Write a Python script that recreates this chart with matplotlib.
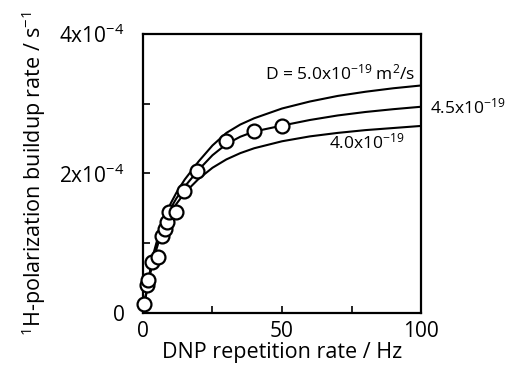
import matplotlib
matplotlib.use("Agg")
import matplotlib.pyplot as plt

plt.rcParams['font.family'] = ['Open Sans', 'DejaVu Sans']
plt.rcParams['mathtext.fontset'] = 'custom'
plt.rcParams['mathtext.rm'] = 'Open Sans'
plt.rcParams['mathtext.it'] = 'Open Sans:italic'
plt.rcParams['mathtext.bf'] = 'Open Sans:bold'

# Measured buildup rates (units of 1e-4 s^-1) vs DNP repetition rate (Hz)
rep_rate = [0.5, 1.3, 2.0, 3.1, 5.3, 6.9, 7.8, 8.5, 9.5, 11.8, 14.7, 19.5, 30.0, 40.0, 50.0]
rate = [0.12, 0.40, 0.47, 0.73, 0.80, 1.10, 1.20, 1.30, 1.45, 1.45, 1.75, 2.04, 2.46, 2.61, 2.68]

# Calculated curves for three diffusion coefficients (units of 1e-4 s^-1)
curve_x = [0, 2, 4, 6, 8, 10, 12, 15, 20, 25, 30, 35, 40, 50, 60, 70, 80, 90, 100]
curve_D50 = [0, 0.49, 0.88, 1.17, 1.39, 1.57, 1.72, 1.91, 2.17, 2.40, 2.58, 2.70, 2.79,
             2.93, 3.03, 3.11, 3.17, 3.22, 3.26]
curve_D45 = [0, 0.48, 0.85, 1.12, 1.33, 1.50, 1.64, 1.81, 2.05, 2.26, 2.42, 2.525, 2.60,
             2.685, 2.765, 2.83, 2.88, 2.92, 2.955]
curve_D40 = [0, 0.45, 0.80, 1.06, 1.27, 1.43, 1.56, 1.72, 1.92, 2.08, 2.20, 2.29, 2.36,
             2.46, 2.53, 2.58, 2.62, 2.65, 2.68]

x_ticks = [0, 50, 100]
y_ticks = [0, 2, 4]
y_tick_labels = ['0', '2x10$^{-4}$', '4x10$^{-4}$']

fig = plt.figure(figsize=(5.05, 3.72), dpi=100)
ax = fig.add_axes([0.283, 0.159, 0.551, 0.750])

for ys in (curve_D50, curve_D45, curve_D40):
    ax.plot(curve_x, ys, color='black', lw=1.5, zorder=2)

ax.plot(rep_rate, rate, 'o', ms=10, mfc='white', mec='black', mew=1.6,
        clip_on=False, zorder=3)

ax.set_xlim(0, 100)
ax.set_ylim(0, 4)
ax.set_xticks(x_ticks)
ax.set_xticks([25, 75], minor=True)
ax.set_yticks(y_ticks)
ax.set_yticklabels(y_tick_labels)
ax.set_yticks([1, 3], minor=True)
ax.tick_params(which='both', direction='in', length=5, width=1.2,
               top=False, right=False)
ax.tick_params(axis='x', labelsize=15, pad=6)
ax.tick_params(axis='y', labelsize=15, pad=13)
for s in ax.spines.values():
    s.set_linewidth(1.6)

ax.set_xlabel('DNP repetition rate / Hz', fontsize=15.5, labelpad=0)
ax.set_ylabel('$^{1}$H-polarization buildup rate / s$^{-1}$', fontsize=15.5, labelpad=8)

ax.text(98, 3.43, 'D = 5.0x10$^{-19}$ m$^{2}$/s', fontsize=12.5, ha='right', va='center')
ax.text(103, 2.95, '4.5x10$^{-19}$', fontsize=12.5, ha='left', va='center', clip_on=False)
ax.text(94, 2.45, '4.0x10$^{-19}$', fontsize=12.5, ha='right', va='center')

fig.savefig('out.png', dpi=100)
